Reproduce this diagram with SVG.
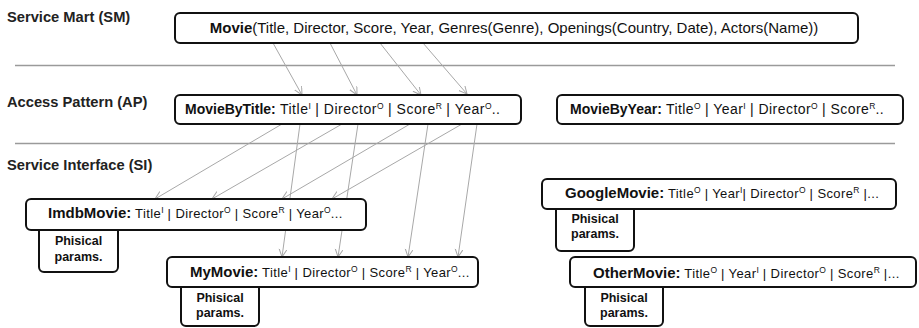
<svg xmlns="http://www.w3.org/2000/svg" width="919" height="328" viewBox="0 0 919 328">
<defs>
<style>
.lbl{font-family:"Liberation Sans",Arial,sans-serif;font-weight:bold;font-size:14.7px;fill:#222}
.box{fill:#fff;stroke:#111;stroke-width:2}
.sep{stroke:#9a9a9a;stroke-width:1.3}
.con{stroke:#a8a8a8;stroke-width:1;fill:none;marker-end:url(#ah)}
.t{font-family:"Liberation Sans",Arial,sans-serif;fill:#111}
.nm{font-weight:bold;font-size:15px}
.rg{font-size:13px;letter-spacing:0.4px}
.sp{font-size:8.5px}
.ap{font-size:14px}
.pp{font-family:"Liberation Sans",Arial,sans-serif;font-weight:bold;font-size:12.5px;fill:#111;text-anchor:middle}
</style>
<marker id="ah" markerWidth="10" markerHeight="10" refX="8" refY="4" orient="auto" markerUnits="userSpaceOnUse">
<path d="M0,0 L8,4 L0,8" fill="none" stroke="#a8a8a8" stroke-width="1"/>
</marker>
</defs>
<rect width="919" height="328" fill="#fff"/>
<g id="labels">
<text class="lbl" x="7" y="22">Service Mart (SM)</text>
<text class="lbl" x="7" y="107">Access Pattern (AP)</text>
<text class="lbl" x="7" y="170">Service Interface (SI)</text>
</g>
<g id="separators">
<line class="sep" x1="15" y1="65.5" x2="895" y2="65.5"/>
<line class="sep" x1="15" y1="143.5" x2="895" y2="143.5"/>
</g>
<g id="connectors">
<line class="con" x1="273" y1="43" x2="302" y2="95"/>
<line class="con" x1="330" y1="43" x2="357" y2="95"/>
<line class="con" x1="380" y1="43" x2="421" y2="95"/>
<line class="con" x1="423" y1="43" x2="467" y2="94"/>
<line class="con" x1="282" y1="124" x2="155" y2="199"/>
<line class="con" x1="342" y1="124" x2="212" y2="199"/>
<line class="con" x1="410" y1="124" x2="282" y2="199"/>
<line class="con" x1="462" y1="124" x2="332" y2="199"/>
<line class="con" x1="300" y1="124" x2="282" y2="257"/>
<line class="con" x1="358" y1="124" x2="338" y2="257"/>
<line class="con" x1="428" y1="124" x2="408" y2="257"/>
<line class="con" x1="477" y1="124" x2="458" y2="257"/>
</g>
<g id="sm-movie">
<rect class="box" x="175" y="13" width="683" height="30" rx="5"/>
<text class="t" x="514" y="33" text-anchor="middle" font-size="15"><tspan font-weight="bold">Movie</tspan>(Title, Director, Score, Year, Genres(Genre), Openings(Country, Date), Actors(Name))</text>
</g>
<g id="ap-moviebytitle">
<rect class="box" x="175" y="95" width="346" height="29" rx="5"/>
<text class="t ap" x="185" y="114"><tspan font-weight="bold">MovieByTitle:</tspan><tspan letter-spacing="0.52"> Title</tspan><tspan class="sp" font-size="9" dy="-5">I</tspan><tspan letter-spacing="0.52" dy="5"> | Director</tspan><tspan class="sp" font-size="9" dy="-5">O</tspan><tspan letter-spacing="0.52" dy="5"> | Score</tspan><tspan class="sp" font-size="9" dy="-5">R</tspan><tspan letter-spacing="0.52" dy="5"> | Year</tspan><tspan class="sp" font-size="9" dy="-5">O</tspan><tspan letter-spacing="0.52" dy="5">..</tspan></text>
</g>
<g id="ap-moviebyyear">
<rect class="box" x="557" y="95" width="346" height="29" rx="5"/>
<text class="t ap" x="570" y="114"><tspan font-weight="bold">MovieByYear:</tspan><tspan letter-spacing="0.45"> Title</tspan><tspan class="sp" font-size="9" dy="-5">O</tspan><tspan letter-spacing="0.45" dy="5"> | Year</tspan><tspan class="sp" font-size="9" dy="-5">I</tspan><tspan letter-spacing="0.45" dy="5"> | Director</tspan><tspan class="sp" font-size="9" dy="-5">O</tspan><tspan letter-spacing="0.45" dy="5"> | Score</tspan><tspan class="sp" font-size="9" dy="-5">R</tspan><tspan letter-spacing="0.45" dy="5">..</tspan></text>
</g>
<g id="si-imdbmovie">
<rect class="box" x="39" y="222" width="79" height="50" rx="5"/>
<text class="pp" x="78.5" y="245">Phisical</text>
<text class="pp" x="78.5" y="261">params.</text>
<rect class="box" x="26" y="199" width="340" height="31" rx="5"/>
<text class="t" x="48" y="218"><tspan class="nm">ImdbMovie:</tspan><tspan class="rg"> Title</tspan><tspan class="sp" dy="-5">I</tspan><tspan class="rg" dy="5"> | Director</tspan><tspan class="sp" dy="-5">O</tspan><tspan class="rg" dy="5"> | Score</tspan><tspan class="sp" dy="-5">R</tspan><tspan class="rg" dy="5"> | Year</tspan><tspan class="sp" dy="-5">O</tspan><tspan class="rg" dy="5">...</tspan></text>
</g>
<g id="si-mymovie">
<rect class="box" x="181" y="280" width="78" height="46" rx="5"/>
<text class="pp" x="220" y="302">Phisical</text>
<text class="pp" x="220" y="317">params.</text>
<rect class="box" x="167" y="257" width="311" height="30" rx="5"/>
<text class="t" x="190" y="277"><tspan class="nm">MyMovie:</tspan><tspan class="rg"> Title</tspan><tspan class="sp" dy="-5">I</tspan><tspan class="rg" dy="5"> | Director</tspan><tspan class="sp" dy="-5">O</tspan><tspan class="rg" dy="5"> | Score</tspan><tspan class="sp" dy="-5">R</tspan><tspan class="rg" dy="5"> | Year</tspan><tspan class="sp" dy="-5">O</tspan><tspan class="rg" dy="5">...</tspan></text>
</g>
<g id="si-googlemovie">
<rect class="box" x="556" y="203" width="78" height="48" rx="5"/>
<text class="pp" x="595" y="223">Phisical</text>
<text class="pp" x="595" y="238">params.</text>
<rect class="box" x="542" y="179" width="354" height="30" rx="5"/>
<text class="t" x="565" y="198"><tspan class="nm">GoogleMovie:</tspan><tspan class="rg"> Title</tspan><tspan class="sp" dy="-5">O</tspan><tspan class="rg" dy="5"> | Year</tspan><tspan class="sp" dy="-5">I</tspan><tspan class="rg" dy="5">| Director</tspan><tspan class="sp" dy="-5">O</tspan><tspan class="rg" dy="5"> | Score</tspan><tspan class="sp" dy="-5">R</tspan><tspan class="rg" dy="5"> |...</tspan></text>
</g>
<g id="si-othermovie">
<rect class="box" x="585" y="280" width="78" height="46" rx="5"/>
<text class="pp" x="624" y="302">Phisical</text>
<text class="pp" x="624" y="317">params.</text>
<rect class="box" x="570" y="257" width="346" height="30" rx="5"/>
<text class="t" x="593" y="278"><tspan class="nm">OtherMovie:</tspan><tspan class="rg"> Title</tspan><tspan class="sp" dy="-5">O</tspan><tspan class="rg" dy="5"> | Year</tspan><tspan class="sp" dy="-5">I</tspan><tspan class="rg" dy="5"> | Director</tspan><tspan class="sp" dy="-5">O</tspan><tspan class="rg" dy="5"> | Score</tspan><tspan class="sp" dy="-5">R</tspan><tspan class="rg" dy="5"> |...</tspan></text>
</g>
</svg>
